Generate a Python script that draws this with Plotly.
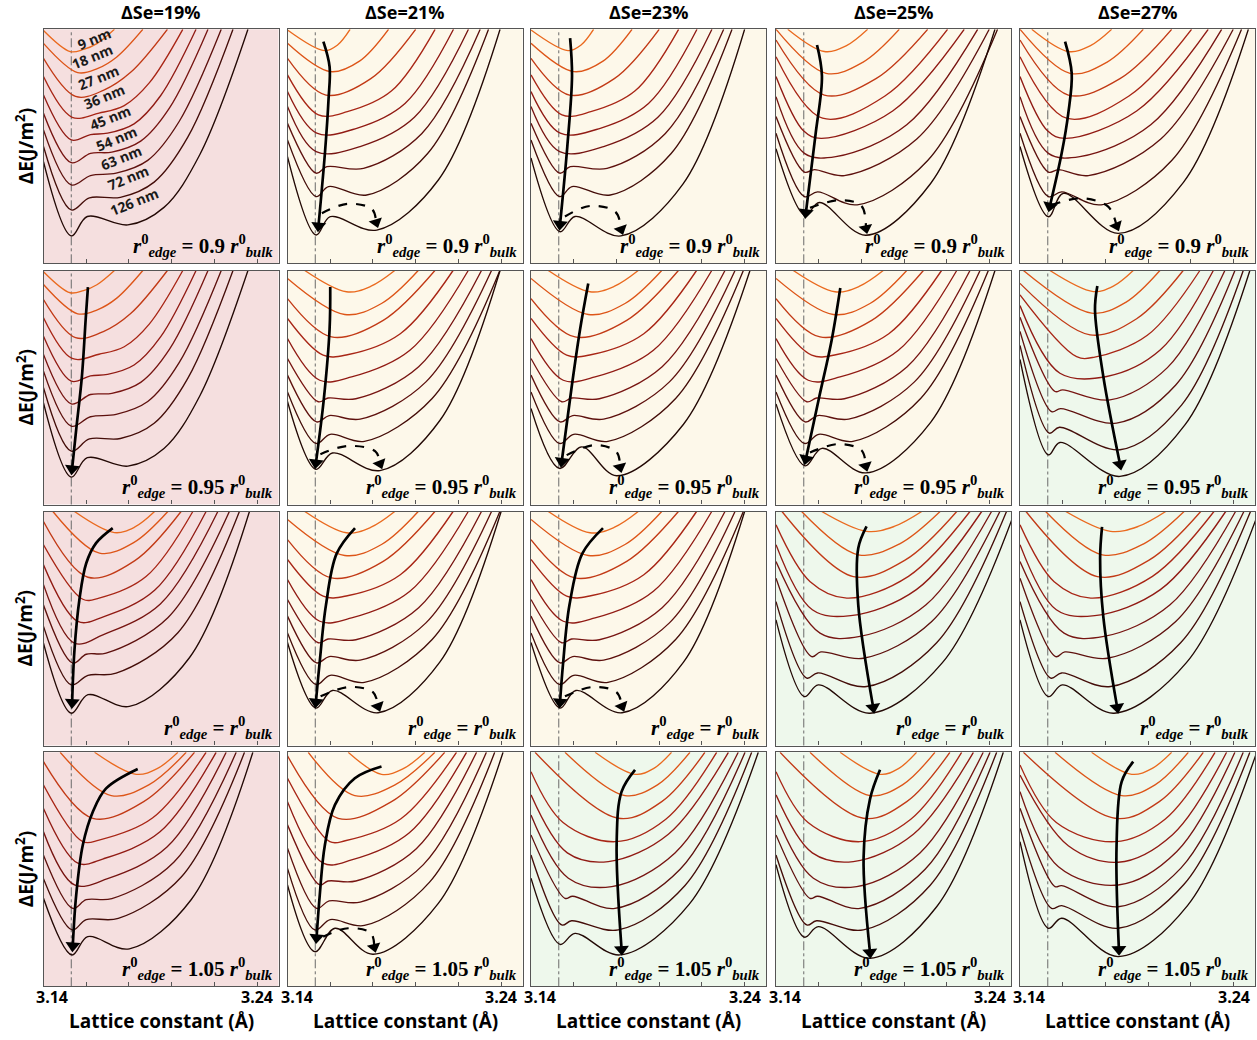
import plotly.graph_objects as go

# ---------------- text / categories ----------------
SE_LABELS = ["ΔSe=19%", "ΔSe=21%", "ΔSe=23%", "ΔSe=25%", "ΔSe=27%"]
RATIO_TEXT = ["0.9 ", "0.95 ", "", "1.05 "]
WIDTH_LABELS = ["9 nm", "18 nm", "27 nm", "36 nm", "45 nm", "54 nm", "63 nm", "72 nm", "126 nm"]
LABEL_X = [3.1639, 3.1629, 3.1657, 3.1685, 3.1714, 3.1742, 3.1765, 3.1798, 3.1826]
LABEL_Y = [0.959, 0.882, 0.796, 0.711, 0.621, 0.535, 0.45, 0.365, 0.262]
EDGE_X = 3.153
XTICKS = [3.16, 3.18, 3.20, 3.22, 3.24]
PANEL_KIND = [
    ["pink", "yellow", "yellow", "yellow", "yellow"],
    ["pink", "yellow", "yellow", "yellow", "green"],
    ["pink", "yellow", "yellow", "green", "green"],
    ["pink", "yellow", "green", "green", "green"],
]

# ---------------- curve key points (x in Å, y = ΔE arbitrary units) ----------------
R1C1 = [
    [(3.140, 0.995), (3.1525, 0.905), (3.1587, 0.914), (3.165, 0.939), (3.1732, 1.0)],
    [(3.140, 0.94), (3.156, 0.815), (3.1652, 0.832), (3.1743, 0.882), (3.1865, 1.0)],
    [(3.140, 0.876), (3.155, 0.713), (3.168, 0.739), (3.1808, 0.816), (3.198, 1.0)],
    [(3.140, 0.798), (3.1534, 0.624), (3.166, 0.642), (3.1778, 0.674), (3.1895, 0.771), (3.2052, 1.0)],
    [(3.140, 0.719), (3.153, 0.527), (3.162, 0.55), (3.170, 0.556), (3.1824, 0.596), (3.1948, 0.716), (3.2114, 1.0)],
    [(3.140, 0.641), (3.153, 0.43), (3.162, 0.47), (3.172, 0.475), (3.1855, 0.522), (3.199, 0.664), (3.217, 1.0)],
    [(3.140, 0.57), (3.153, 0.335), (3.162, 0.375), (3.174, 0.385), (3.1888, 0.44), (3.2035, 0.606), (3.2232, 1.0)],
    [(3.140, 0.499), (3.153, 0.228), (3.1615, 0.28), (3.176, 0.282), (3.1918, 0.347), (3.2076, 0.54), (3.2287, 1.0)],
    [(3.140, 0.434), (3.153, 0.117), (3.1605, 0.2), (3.1795, 0.164), (3.1964, 0.239), (3.2132, 0.465), (3.2357, 1.0)],
]
R1C2 = [
    [(3.140, 0.997), (3.1573, 0.909), (3.1633, 0.932), (3.1693, 1.0)],
    [(3.140, 0.94), (3.160, 0.819), (3.1737, 0.864), (3.1873, 1.0)],
    [(3.140, 0.876), (3.158, 0.719), (3.179, 0.789), (3.200, 1.0)],
    [(3.140, 0.805), (3.1545, 0.634), (3.168, 0.648), (3.1886, 0.736), (3.2091, 1.0)],
    [(3.140, 0.734), (3.1537, 0.556), (3.1724, 0.577), (3.195, 0.683), (3.2177, 1.0)],
    [(3.140, 0.67), (3.1534, 0.477), (3.174, 0.499), (3.1994, 0.624), (3.2247, 1.0)],
    [(3.140, 0.598), (3.1534, 0.385), (3.1584, 0.413), (3.1756, 0.406), (3.2029, 0.555), (3.2302, 1.0)],
    [(3.140, 0.527), (3.1534, 0.285), (3.1592, 0.328), (3.1771, 0.292), (3.2056, 0.469), (3.2341, 1.0)],
    [(3.140, 0.456), (3.1534, 0.121), (3.160, 0.199), (3.1818, 0.142), (3.2107, 0.357), (3.2395, 1.0)],
]
R1C5 = [
    [(3.1455, 1.0), (3.1626, 0.905), (3.1728, 0.929), (3.1829, 1.0)],
    [(3.140, 1.0), (3.1634, 0.812), (3.1806, 0.859), (3.1977, 1.0)],
    [(3.140, 0.954), (3.1626, 0.719), (3.1868, 0.789), (3.211, 1.0)],
    [(3.140, 0.883), (3.1618, 0.62), (3.191, 0.715), (3.2203, 1.0)],
    [(3.140, 0.798), (3.153, 0.565), (3.1611, 0.534), (3.1946, 0.651), (3.2281, 1.0)],
    [(3.140, 0.712), (3.1533, 0.47), (3.168, 0.456), (3.2012, 0.592), (3.2344, 1.0)],
    [(3.140, 0.627), (3.1533, 0.39), (3.158, 0.40), (3.172, 0.375), (3.2059, 0.531), (3.2398, 1.0)],
    [(3.140, 0.556), (3.1533, 0.285), (3.1595, 0.305), (3.178, 0.25), (3.2109, 0.438), (3.2437, 1.0)],
    [(3.140, 0.499), (3.1533, 0.199), (3.1603, 0.299), (3.186, 0.128), (3.2165, 0.346), (3.2469, 1.0)],
]
R2C3 = [
    [(3.1481, 1.0), (3.1676, 0.909), (3.1789, 0.932), (3.1902, 1.0)],
    [(3.140, 0.966), (3.1668, 0.812), (3.184, 0.859), (3.2012, 1.0)],
    [(3.140, 0.88), (3.1606, 0.716), (3.1848, 0.787), (3.209, 1.0)],
    [(3.140, 0.795), (3.1567, 0.638), (3.168, 0.64), (3.1928, 0.73), (3.2175, 1.0)],
    [(3.140, 0.709), (3.1551, 0.531), (3.170, 0.545), (3.1973, 0.659), (3.2246, 1.0)],
    [(3.140, 0.624), (3.1544, 0.439), (3.159, 0.455), (3.172, 0.452), (3.2014, 0.589), (3.2308, 1.0)],
    [(3.140, 0.553), (3.1536, 0.353), (3.1595, 0.38), (3.174, 0.365), (3.2048, 0.524), (3.2355, 1.0)],
    [(3.140, 0.481), (3.1533, 0.261), (3.160, 0.30), (3.176, 0.27), (3.2077, 0.453), (3.2394, 1.0)],
    [(3.140, 0.41), (3.1533, 0.154), (3.1637, 0.246), (3.1801, 0.123), (3.2113, 0.342), (3.2425, 1.0)],
]
R2C5 = [
    [(3.154, 1.0), (3.1743, 0.91), (3.1837, 0.933), (3.193, 1.0)],
    [(3.1416, 1.0), (3.1735, 0.818), (3.1895, 0.864), (3.2055, 1.0)],
    [(3.140, 0.945), (3.1728, 0.725), (3.1946, 0.794), (3.2164, 1.0)],
    [(3.140, 0.896), (3.1665, 0.632), (3.175, 0.63), (3.1996, 0.723), (3.2242, 1.0)],
    [(3.140, 0.85), (3.1587, 0.561), (3.1806, 0.547), (3.2056, 0.66), (3.2305, 1.0)],
    [(3.140, 0.80), (3.1564, 0.483), (3.160, 0.49), (3.1821, 0.447), (3.209, 0.585), (3.2359, 1.0)],
    [(3.140, 0.74), (3.1548, 0.397), (3.159, 0.41), (3.1852, 0.348), (3.2129, 0.511), (3.2406, 1.0)],
    [(3.140, 0.68), (3.1537, 0.305), (3.1585, 0.33), (3.1868, 0.234), (3.2157, 0.426), (3.2445, 1.0)],
    [(3.140, 0.62), (3.1533, 0.212), (3.1587, 0.265), (3.1868, 0.12), (3.2172, 0.34), (3.2476, 1.0)],
]
R3C1 = [
    [(3.1545, 1.0), (3.1732, 0.91), (3.1826, 0.933), (3.192, 1.0)],
    [(3.1444, 1.0), (3.1662, 0.822), (3.1822, 0.867), (3.1982, 1.0)],
    [(3.140, 0.957), (3.1608, 0.719), (3.1826, 0.789), (3.2044, 1.0)],
    [(3.140, 0.858), (3.1584, 0.625), (3.166, 0.63), (3.188, 0.722), (3.2099, 1.0)],
    [(3.140, 0.772), (3.1561, 0.53), (3.168, 0.55), (3.192, 0.663), (3.2161, 1.0)],
    [(3.140, 0.687), (3.1545, 0.437), (3.1678, 0.473), (3.1947, 0.605), (3.2216, 1.0)],
    [(3.140, 0.60), (3.1537, 0.352), (3.160, 0.39), (3.1693, 0.395), (3.1982, 0.546), (3.227, 1.0)],
    [(3.140, 0.509), (3.153, 0.259), (3.1608, 0.30), (3.174, 0.309), (3.2029, 0.482), (3.2317, 1.0)],
    [(3.140, 0.437), (3.153, 0.138), (3.1608, 0.217), (3.1802, 0.167), (3.2083, 0.375), (3.2364, 1.0)],
]
R3C4 = [
    [(3.1614, 1.0), (3.1824, 0.915), (3.1953, 0.936), (3.2082, 1.0)],
    [(3.152, 1.0), (3.1785, 0.815), (3.1977, 0.861), (3.2168, 1.0)],
    [(3.1428, 1.0), (3.1762, 0.722), (3.2004, 0.792), (3.2246, 1.0)],
    [(3.140, 0.943), (3.156, 0.70), (3.1731, 0.63), (3.202, 0.723), (3.2308, 1.0)],
    [(3.140, 0.858), (3.157, 0.58), (3.175, 0.555), (3.2057, 0.666), (3.2363, 1.0)],
    [(3.140, 0.786), (3.1606, 0.48), (3.1793, 0.466), (3.2101, 0.60), (3.2409, 1.0)],
    [(3.140, 0.715), (3.1567, 0.38), (3.161, 0.40), (3.1809, 0.373), (3.2129, 0.53), (3.2448, 1.0)],
    [(3.140, 0.615), (3.1544, 0.288), (3.1595, 0.31), (3.1824, 0.252), (3.2152, 0.439), (3.2479, 1.0)],
    [(3.140, 0.537), (3.1533, 0.209), (3.1598, 0.259), (3.184, 0.138), (3.2179, 0.354), (3.2518, 1.0)],
]
R4C1 = [
    [(3.1639, 1.0), (3.1834, 0.906), (3.1932, 0.93), (3.2029, 1.0)],
    [(3.1478, 1.0), (3.1717, 0.815), (3.1893, 0.861), (3.2068, 1.0)],
    [(3.140, 0.96), (3.1631, 0.718), (3.1869, 0.789), (3.2107, 1.0)],
    [(3.140, 0.86), (3.1584, 0.618), (3.166, 0.625), (3.191, 0.719), (3.2161, 1.0)],
    [(3.140, 0.76), (3.1561, 0.526), (3.168, 0.545), (3.1944, 0.659), (3.2208, 1.0)],
    [(3.140, 0.66), (3.1545, 0.433), (3.170, 0.46), (3.1978, 0.595), (3.2255, 1.0)],
    [(3.140, 0.56), (3.1537, 0.333), (3.160, 0.37), (3.172, 0.375), (3.2011, 0.531), (3.2302, 1.0)],
    [(3.140, 0.46), (3.1534, 0.241), (3.160, 0.285), (3.175, 0.29), (3.2046, 0.468), (3.2341, 1.0)],
    [(3.140, 0.376), (3.1533, 0.134), (3.1607, 0.212), (3.1802, 0.16), (3.2091, 0.37), (3.238, 1.0)],
]
R4C2 = [
    [(3.1684, 1.0), (3.184, 0.906), (3.1942, 0.93), (3.2043, 1.0)],
    [(3.1497, 1.0), (3.1715, 0.815), (3.1903, 0.861), (3.209, 1.0)],
    [(3.140, 0.985), (3.1637, 0.718), (3.1887, 0.789), (3.2136, 1.0)],
    [(3.140, 0.889), (3.1598, 0.618), (3.167, 0.622), (3.1931, 0.716), (3.2191, 1.0)],
    [(3.140, 0.789), (3.1567, 0.526), (3.170, 0.54), (3.1969, 0.655), (3.2238, 1.0)],
    [(3.140, 0.69), (3.1551, 0.433), (3.159, 0.45), (3.172, 0.45), (3.2003, 0.588), (3.2285, 1.0)],
    [(3.140, 0.59), (3.1536, 0.333), (3.1595, 0.365), (3.174, 0.36), (3.2036, 0.52), (3.2331, 1.0)],
    [(3.140, 0.504), (3.1528, 0.241), (3.160, 0.285), (3.176, 0.26), (3.2065, 0.445), (3.237, 1.0)],
    [(3.140, 0.433), (3.1528, 0.148), (3.1622, 0.248), (3.1801, 0.137), (3.2105, 0.353), (3.2409, 1.0)],
]
R4C3 = [
    [(3.170, 1.0), (3.1887, 0.906), (3.1973, 0.93), (3.2058, 1.0)],
    [(3.1559, 1.0), (3.184, 0.815), (3.1992, 0.861), (3.2144, 1.0)],
    [(3.1419, 1.0), (3.1809, 0.718), (3.2012, 0.789), (3.2214, 1.0)],
    [(3.140, 0.917), (3.155, 0.70), (3.1793, 0.618), (3.2031, 0.714), (3.2269, 1.0)],
    [(3.140, 0.818), (3.157, 0.57), (3.1762, 0.533), (3.2043, 0.65), (3.2324, 1.0)],
    [(3.140, 0.732), (3.1575, 0.462), (3.1778, 0.426), (3.2074, 0.57), (3.237, 1.0)],
    [(3.140, 0.647), (3.1559, 0.376), (3.1595, 0.385), (3.1793, 0.333), (3.2098, 0.5), (3.2402, 1.0)],
    [(3.140, 0.561), (3.1544, 0.262), (3.159, 0.28), (3.1809, 0.241), (3.2121, 0.431), (3.2433, 1.0)],
    [(3.140, 0.462), (3.1536, 0.179), (3.1606, 0.226), (3.1817, 0.134), (3.2141, 0.351), (3.2464, 1.0)],
]
R4C5 = [
    [(3.1735, 1.0), (3.1923, 0.906), (3.2017, 0.93), (3.211, 1.0)],
    [(3.1564, 1.0), (3.1876, 0.815), (3.2032, 0.861), (3.2188, 1.0)],
    [(3.1416, 1.0), (3.1845, 0.718), (3.2052, 0.789), (3.2258, 1.0)],
    [(3.140, 0.946), (3.157, 0.70), (3.1845, 0.618), (3.2079, 0.714), (3.2313, 1.0)],
    [(3.140, 0.903), (3.1626, 0.601), (3.186, 0.53), (3.2114, 0.648), (3.2367, 1.0)],
    [(3.140, 0.832), (3.158, 0.511), (3.186, 0.433), (3.2133, 0.575), (3.2406, 1.0)],
    [(3.140, 0.761), (3.1564, 0.426), (3.1595, 0.43), (3.186, 0.34), (3.2153, 0.505), (3.2445, 1.0)],
    [(3.140, 0.675), (3.1548, 0.333), (3.1595, 0.345), (3.186, 0.248), (3.2168, 0.436), (3.2476, 1.0)],
    [(3.140, 0.618), (3.1533, 0.248), (3.1595, 0.291), (3.186, 0.127), (3.2184, 0.345), (3.2508, 1.0)],
]
# panels that share the upper curves of a neighbour; their 126 nm curve read separately
R1C3 = R1C2[:8] + [[(3.140, 0.45), (3.1536, 0.135), (3.1606, 0.20), (3.1821, 0.117), (3.2111, 0.338), (3.240, 1.0)]]
R1C4 = R1C5[:8] + [[(3.140, 0.49), (3.1536, 0.205), (3.1603, 0.26), (3.1821, 0.12), (3.2123, 0.34), (3.2425, 1.0)]]
R2C1 = R1C1
R2C2 = R2C3[:8] + [[(3.140, 0.44), (3.1533, 0.15), (3.161, 0.22), (3.1833, 0.145), (3.2114, 0.36), (3.2395, 1.0)]]
R2C4 = R2C3[:8] + [[(3.140, 0.43), (3.1536, 0.165), (3.1615, 0.24), (3.1821, 0.135), (3.2123, 0.35), (3.2425, 1.0)]]
R3C2 = R2C3[:8] + [[(3.140, 0.44), (3.1533, 0.16), (3.161, 0.235), (3.1824, 0.14), (3.2112, 0.355), (3.2400, 1.0)]]
R3C3 = R2C3[:8] + [[(3.140, 0.44), (3.1536, 0.16), (3.161, 0.235), (3.1826, 0.14), (3.2113, 0.355), (3.2400, 1.0)]]
R3C5 = R3C4
R4C4 = R4C3[:8] + [[(3.140, 0.52), (3.1533, 0.21), (3.1598, 0.255), (3.184, 0.12), (3.2152, 0.34), (3.2464, 1.0)]]

# ---------------- arrows (solid: trend of minimum; dashed: hop to second well) ----------------
ARROW_R1C2 = [(3.1568, 0.947), (3.1597, 0.84), (3.1592, 0.70), (3.1576, 0.48), (3.1545, 0.16)]
ARROW_R1C3 = [(3.1583, 0.962), (3.1592, 0.80), (3.157, 0.5), (3.1536, 0.167)]
ARROW_R1C4 = [(3.1592, 0.933), (3.1615, 0.8), (3.1585, 0.55), (3.154, 0.217)]
ARROW_R1C5 = [(3.1611, 0.947), (3.1642, 0.812), (3.1626, 0.641), (3.1595, 0.47), (3.154, 0.245)]
ARROW_R2C1 = [(3.1608, 0.929), (3.1598, 0.80), (3.158, 0.55), (3.1553, 0.32), (3.1534, 0.153)]
ARROW_R2C2 = [(3.160, 0.929), (3.1597, 0.75), (3.157, 0.45), (3.1533, 0.178)]
ARROW_R2C3 = [(3.1668, 0.944), (3.163, 0.75), (3.159, 0.5), (3.1544, 0.185)]
ARROW_R2C4 = [(3.1701, 0.925), (3.166, 0.7), (3.160, 0.45), (3.154, 0.195)]
ARROW_R2C5 = [(3.1762, 0.934), (3.1751, 0.832), (3.179, 0.547), (3.1868, 0.173)]
ARROW_R3C1 = [(3.1724, 0.929), (3.1646, 0.865), (3.160, 0.779), (3.1568, 0.623), (3.1545, 0.409), (3.1534, 0.184)]
ARROW_R3C2 = [(3.1716, 0.929), (3.163, 0.82), (3.158, 0.6), (3.155, 0.35), (3.1533, 0.186)]
ARROW_R3C3 = [(3.1737, 0.929), (3.164, 0.82), (3.158, 0.6), (3.155, 0.35), (3.1536, 0.186)]
ARROW_R3C4 = [(3.1824, 0.936), (3.1785, 0.843), (3.1785, 0.601), (3.1855, 0.163)]
ARROW_R3C5 = [(3.1784, 0.934), (3.1775, 0.80), (3.179, 0.55), (3.1855, 0.163)]
ARROW_R4C1 = [(3.1841, 0.929), (3.1693, 0.846), (3.1631, 0.746), (3.1584, 0.604), (3.1553, 0.39), (3.1537, 0.173)]
ARROW_R4C2 = [(3.184, 0.939), (3.1715, 0.889), (3.1622, 0.775), (3.1575, 0.604), (3.1551, 0.39), (3.1536, 0.208)]
ARROW_R4C3 = [(3.1887, 0.925), (3.1824, 0.832), (3.1801, 0.618), (3.1824, 0.158)]
ARROW_R4C4 = [(3.1887, 0.925), (3.184, 0.80), (3.181, 0.55), (3.184, 0.145)]
ARROW_R4C5 = [(3.193, 0.96), (3.1876, 0.875), (3.1852, 0.601), (3.1863, 0.158)]

DASH_R1C2 = [(3.1561, 0.214), (3.168, 0.254), (3.1795, 0.232), (3.1815, 0.175)]
DASH_R1C3 = [(3.1559, 0.20), (3.1676, 0.245), (3.1795, 0.22), (3.1822, 0.145)]
DASH_R1C4 = [(3.1559, 0.237), (3.170, 0.27), (3.180, 0.245), (3.1821, 0.15)]
DASH_R1C5 = [(3.1548, 0.249), (3.1689, 0.278), (3.1813, 0.242), (3.1852, 0.16)]
DASH_R2C2 = [(3.1554, 0.215), (3.168, 0.25), (3.181, 0.228), (3.1833, 0.175)]
DASH_R2C3 = [(3.1567, 0.211), (3.170, 0.254), (3.180, 0.225), (3.1817, 0.16)]
DASH_R2C4 = [(3.1559, 0.222), (3.169, 0.258), (3.180, 0.232), (3.182, 0.165)]
DASH_R3C2 = [(3.1555, 0.21), (3.169, 0.25), (3.180, 0.228), (3.1824, 0.168)]
DASH_R3C3 = [(3.1559, 0.21), (3.169, 0.25), (3.180, 0.228), (3.1826, 0.168)]
DASH_R4C2 = [(3.1567, 0.212), (3.1684, 0.248), (3.179, 0.228), (3.1806, 0.168)]

CURVES = [
    [R1C1, R1C2, R1C3, R1C4, R1C5],
    [R2C1, R2C2, R2C3, R2C4, R2C5],
    [R3C1, R3C2, R3C3, R3C4, R3C5],
    [R4C1, R4C2, R4C3, R4C4, R4C5],
]
ARROWS = [
    [None, ARROW_R1C2, ARROW_R1C3, ARROW_R1C4, ARROW_R1C5],
    [ARROW_R2C1, ARROW_R2C2, ARROW_R2C3, ARROW_R2C4, ARROW_R2C5],
    [ARROW_R3C1, ARROW_R3C2, ARROW_R3C3, ARROW_R3C4, ARROW_R3C5],
    [ARROW_R4C1, ARROW_R4C2, ARROW_R4C3, ARROW_R4C4, ARROW_R4C5],
]
DASHES = [
    [None, DASH_R1C2, DASH_R1C3, DASH_R1C4, DASH_R1C5],
    [None, DASH_R2C2, DASH_R2C3, DASH_R2C4, None],
    [None, DASH_R3C2, DASH_R3C3, None, None],
    [None, DASH_R4C2, None, None, None],
]

# ---------------- styles ----------------
CURVE_COLORS = ["#ea6a1f", "#dd5518", "#c23a16", "#a82616", "#911b14", "#771512",
                "#5e110e", "#440d09", "#230905"]
BG = {"pink": "#f5dfdf", "yellow": "#fdf8ea", "green": "#eef8ec"}
FRAME = "#555555"
SANS = "Open Sans, DejaVu Sans, sans-serif"
SERIF = "Liberation Serif, DejaVu Serif, serif"

W, H = 1257, 1040
COL_LEFT = [43.5, 287.5, 531, 776, 1020]
ROW_TOP = [29.3, 270.5, 511.5, 752.3]
PW, PH = 235, 234

fig = go.Figure()
axes = {}
shapes = []
annotations = []


def add_arrow(pts, xref, yref, width, head, dash):
    fig.add_trace(go.Scatter(
        x=[p[0] for p in pts], y=[p[1] for p in pts], mode="lines",
        line=dict(color="black", width=width, dash=dash, shape="spline", smoothing=1.0),
        xaxis=xref, yaxis=yref, showlegend=False, hoverinfo="skip"))
    fig.add_trace(go.Scatter(
        x=[pts[-2][0], pts[-1][0]], y=[pts[-2][1], pts[-1][1]], mode="markers",
        marker=dict(symbol="triangle-up", angleref="previous", size=[0, head], opacity=1,
                    color="black", line=dict(width=0)),
        xaxis=xref, yaxis=yref, showlegend=False, hoverinfo="skip"))


for r in range(4):
    for c in range(5):
        i = r * 5 + c + 1
        s = "" if i == 1 else str(i)
        xref, yref = "x" + s, "y" + s
        xd = [COL_LEFT[c] / W, (COL_LEFT[c] + PW) / W]
        yd = [1 - (ROW_TOP[r] + PH) / H, 1 - ROW_TOP[r] / H]
        axes["xaxis" + s] = dict(domain=xd, range=[3.14, 3.25], anchor=yref, showline=True,
                                 mirror=True, linecolor=FRAME, linewidth=1.4, ticks="inside",
                                 tickvals=XTICKS, ticklen=4, tickcolor=FRAME, tickwidth=1,
                                 showticklabels=False, showgrid=False, zeroline=False,
                                 fixedrange=True)
        axes["yaxis" + s] = dict(domain=yd, range=[0, 1], anchor=xref, showline=True,
                                 mirror=True, linecolor=FRAME, linewidth=1.4, ticks="",
                                 tickvals=[], showticklabels=False, showgrid=False,
                                 zeroline=False, fixedrange=True)
        shapes.append(dict(type="rect", xref=xref + " domain", yref=yref + " domain",
                           x0=0, x1=1, y0=0, y1=1, fillcolor=BG[PANEL_KIND[r][c]],
                           line=dict(width=0), layer="below"))
        shapes.append(dict(type="line", xref=xref, yref=yref + " domain", x0=EDGE_X, x1=EDGE_X,
                           y0=0, y1=1, line=dict(color="#6a6a6a", width=1, dash="dashdot"),
                           layer="below"))
        for k, curve in enumerate(CURVES[r][c]):
            fig.add_trace(go.Scatter(
                x=[p[0] for p in curve], y=[p[1] for p in curve], mode="lines",
                line=dict(color=CURVE_COLORS[k], width=1.35, shape="spline", smoothing=1.0),
                xaxis=xref, yaxis=yref, showlegend=False, hoverinfo="skip"))
        if ARROWS[r][c]:
            add_arrow(ARROWS[r][c], xref, yref, 2.7, 13, "solid")
        if DASHES[r][c]:
            add_arrow(DASHES[r][c], xref, yref, 2.2, 12, "dash")
        ratio = RATIO_TEXT[r]
        txt = ("<b><i>r</i></b><sup><b>0</b></sup><sub><b><i>edge</i></b></sub>"
               "<b> = " + ratio + "</b><b><i>r</i></b><sup><b>0</b></sup><sub><b><i>bulk</i></b></sub>")
        annotations.append(dict(text=txt, xref=xref + " domain", yref=yref + " domain",
                                x=0.985, y=0.005, xanchor="right", yanchor="bottom",
                                showarrow=False, font=dict(family=SERIF, size=21, color="black")))
        if r == 3:
            annotations.append(dict(text="<b>3.14</b>", xref=xref, yref="paper", x=3.14,
                                    y=1 - 997 / H, xshift=9, xanchor="center", yanchor="middle",
                                    showarrow=False, font=dict(family=SANS, size=16, color="black")))
            annotations.append(dict(text="<b>3.24</b>", xref=xref, yref="paper", x=3.24,
                                    y=1 - 997 / H, xanchor="center", yanchor="middle",
                                    showarrow=False, font=dict(family=SANS, size=16, color="black")))
            annotations.append(dict(text="<b>Lattice constant (Å)</b>", xref=xref + " domain",
                                    yref="paper", x=0.5, y=1 - 1021 / H, xanchor="center",
                                    yanchor="middle", showarrow=False,
                                    font=dict(family=SANS, size=19, color="black")))
        if r == 0:
            annotations.append(dict(text="<b>" + SE_LABELS[c] + "</b>", xref=xref + " domain",
                                    yref="paper", x=0.5, y=1 - 12 / H, xanchor="center",
                                    yanchor="middle", showarrow=False,
                                    font=dict(family=SANS, size=18, color="black")))
        if c == 0:
            annotations.append(dict(text="<b>ΔE(J/m<sup>2</sup>)</b>", xref="paper",
                                    yref=yref + " domain", x=25 / W, y=0.5, xanchor="center",
                                    yanchor="middle", textangle=-90, showarrow=False,
                                    font=dict(family=SANS, size=19, color="black")))

for lx, ly, lt in zip(LABEL_X, LABEL_Y, WIDTH_LABELS):
    annotations.append(dict(text="<b>" + lt + "</b>", xref="x", yref="y", x=lx, y=ly,
                            textangle=-22, showarrow=False,
                            font=dict(family=SANS, size=14, color="#1a1a1a")))

fig.update_layout(width=W, height=H, margin=dict(l=0, r=0, t=0, b=0),
                  paper_bgcolor="white", plot_bgcolor="rgba(0,0,0,0)",
                  shapes=shapes, annotations=annotations, **axes)
fig.write_html("out.html")
